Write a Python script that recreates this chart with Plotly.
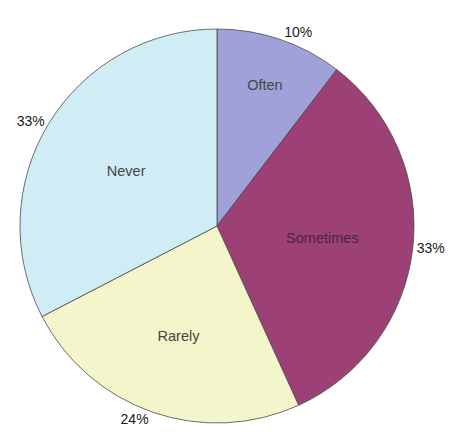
import plotly.graph_objects as go

categories = ["Often", "Sometimes", "Rarely", "Never"]
values = [10.4, 32.8, 24.2, 32.6]
colors = ["#A0A1D8", "#9D4075", "#F4F5CB", "#D0EDF5"]
name_colors = ["#454545", "#4a2244", "#454545", "#454545"]

fig = go.Figure()

# visible slices with category names inside
fig.add_trace(go.Pie(
    labels=categories, values=values, sort=False, direction="clockwise", rotation=0,
    marker=dict(colors=colors, line=dict(color="#4a4a4a", width=0.8)),
    textinfo="label", textposition="inside", insidetextorientation="horizontal",
    insidetextfont=dict(family="Arial, Liberation Sans, sans-serif", size=14.5, color=name_colors),
    showlegend=False, hoverinfo="label+percent",
))

# transparent overlay carrying the percentage labels outside
fig.add_trace(go.Pie(
    labels=categories, values=values, sort=False, direction="clockwise", rotation=0,
    marker=dict(colors=["rgba(0,0,0,0)"] * len(categories), line=dict(width=0)),
    texttemplate="%{percent:.0%}", textposition="outside",
    outsidetextfont=dict(family="Arial, Liberation Sans, sans-serif", size=14, color="#1a1a1a"),
    showlegend=False, hoverinfo="skip",
))

fig.update_layout(
    width=449, height=441,
    margin=dict(l=20, r=35, t=29, b=18),
    paper_bgcolor="white", plot_bgcolor="white",
)

fig.write_html("out.html")
